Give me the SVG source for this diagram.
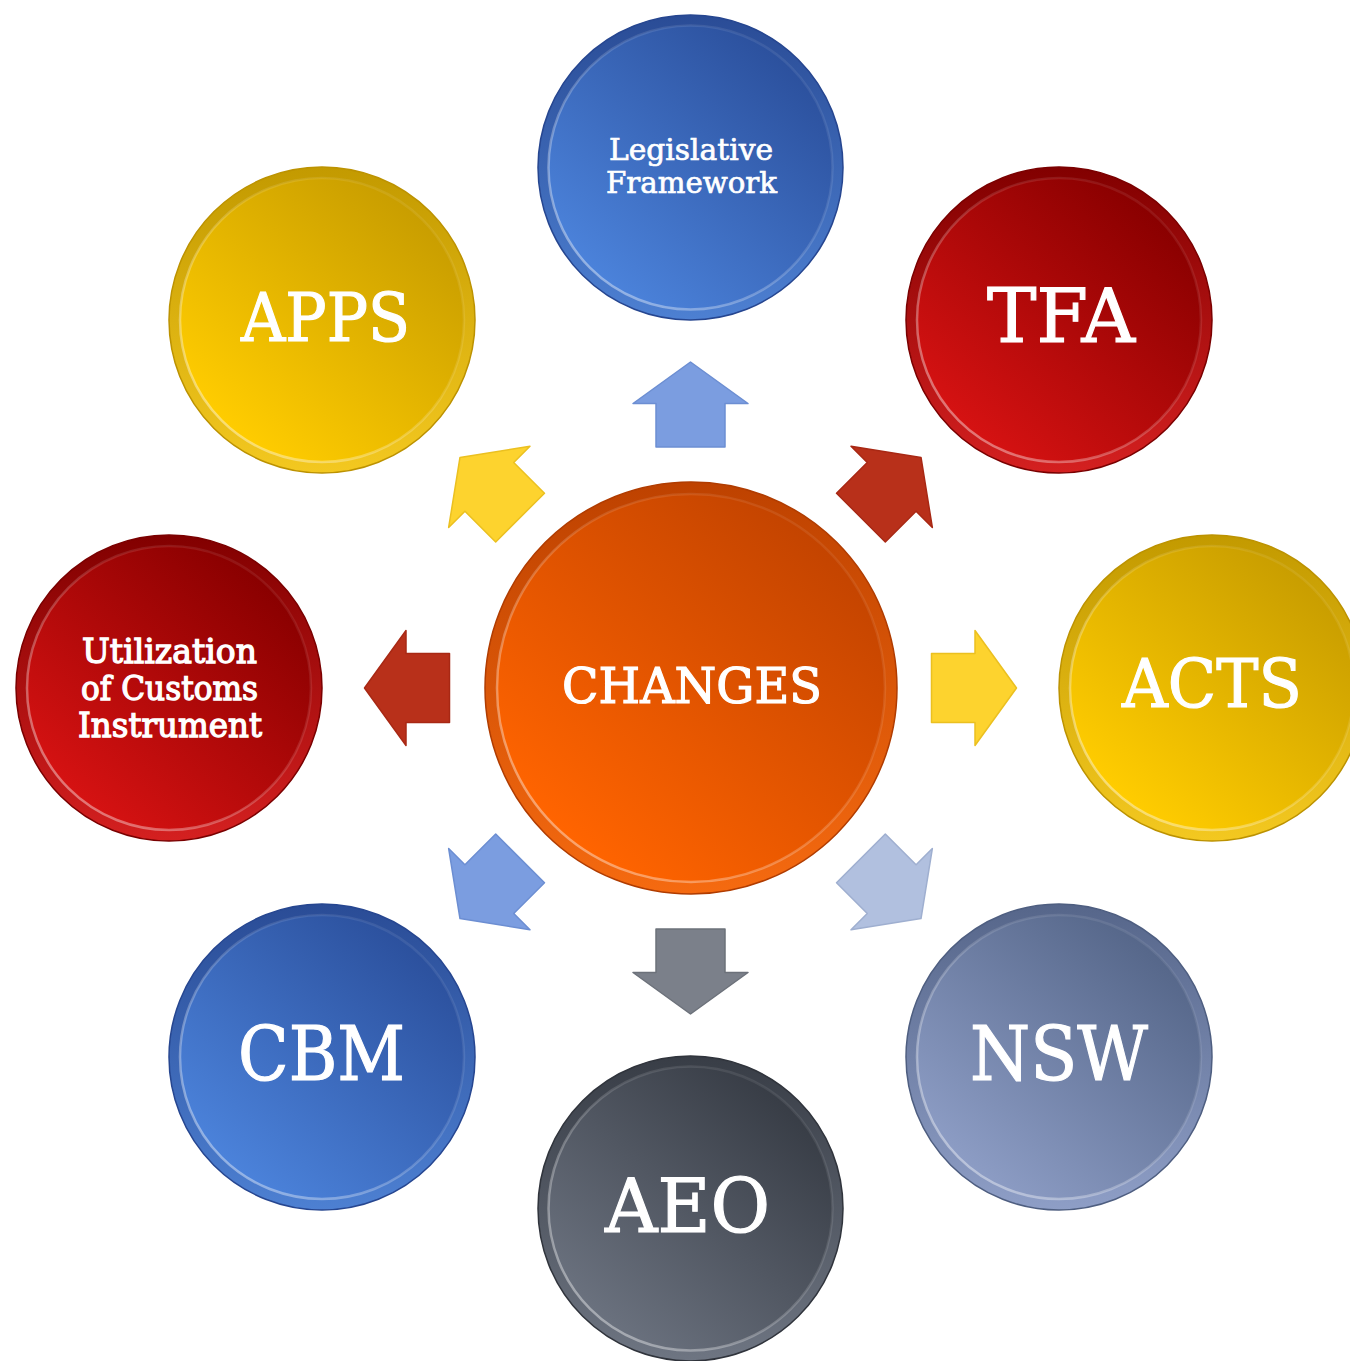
<svg xmlns="http://www.w3.org/2000/svg" width="1350" height="1361" viewBox="0 0 1350 1361">
<defs>
  <linearGradient id="faceBlue" x1="0.15" y1="0.85" x2="0.8" y2="0.1"><stop offset="0" stop-color="#4B82DA"/><stop offset="1" stop-color="#2C519E"/></linearGradient>
  <linearGradient id="rimBlue" x1="0" y1="0" x2="0" y2="1"><stop offset="0" stop-color="#2A4C96"/><stop offset="1" stop-color="#4D80D2"/></linearGradient>
  <linearGradient id="faceYellow" x1="0.15" y1="0.85" x2="0.8" y2="0.1"><stop offset="0" stop-color="#FFCC00"/><stop offset="1" stop-color="#C99E00"/></linearGradient>
  <linearGradient id="rimYellow" x1="0" y1="0" x2="0" y2="1"><stop offset="0" stop-color="#C39A00"/><stop offset="1" stop-color="#F3C820"/></linearGradient>
  <linearGradient id="faceRed" x1="0.15" y1="0.85" x2="0.8" y2="0.1"><stop offset="0" stop-color="#D51212"/><stop offset="1" stop-color="#8A0000"/></linearGradient>
  <linearGradient id="rimRed" x1="0" y1="0" x2="0" y2="1"><stop offset="0" stop-color="#820000"/><stop offset="1" stop-color="#D42020"/></linearGradient>
  <linearGradient id="faceOrange" x1="0.15" y1="0.85" x2="0.8" y2="0.1"><stop offset="0" stop-color="#FF6400"/><stop offset="1" stop-color="#C44400"/></linearGradient>
  <linearGradient id="rimOrange" x1="0" y1="0" x2="0" y2="1"><stop offset="0" stop-color="#BE4200"/><stop offset="1" stop-color="#F56A10"/></linearGradient>
  <linearGradient id="faceSlate" x1="0.15" y1="0.85" x2="0.8" y2="0.1"><stop offset="0" stop-color="#8C9CC4"/><stop offset="1" stop-color="#56678A"/></linearGradient>
  <linearGradient id="rimSlate" x1="0" y1="0" x2="0" y2="1"><stop offset="0" stop-color="#56668A"/><stop offset="1" stop-color="#8E9EC6"/></linearGradient>
  <linearGradient id="faceGray" x1="0.15" y1="0.85" x2="0.8" y2="0.1"><stop offset="0" stop-color="#6A717E"/><stop offset="1" stop-color="#383D46"/></linearGradient>
  <linearGradient id="rimGray" x1="0" y1="0" x2="0" y2="1"><stop offset="0" stop-color="#383D46"/><stop offset="1" stop-color="#6E7582"/></linearGradient>
  <linearGradient id="hl" x1="0" y1="1" x2="1" y2="0"><stop offset="0" stop-color="#fff" stop-opacity="0.5"/><stop offset="0.6" stop-color="#fff" stop-opacity="0.12"/><stop offset="1" stop-color="#fff" stop-opacity="0.05"/></linearGradient>
  <path id="arrow" d="M 0 -326 L 57.5 -284.5 L 34.5 -284.5 L 34.5 -241 L -34.5 -241 L -34.5 -284.5 L -57.5 -284.5 Z"/>
</defs>
<style>
  .rim { stroke-width: 1.5; }
  .inner { stroke: url(#hl); stroke-width: 2.5; }
  .lbl { font-family: "DejaVu Serif", "Liberation Serif", serif; fill: #ffffff; stroke: #ffffff; stroke-width: 1.2px; text-anchor: middle; }
  .small { font-size: 30px; stroke-width: 0.7px; }
  .util { font-size: 34px; stroke-width: 1.3px; }
  .arr { stroke-width: 1.5; stroke-linejoin: round; }
</style>

<g id="connectors">
  <use href="#arrow" class="arr" transform="translate(690.5,688) rotate(0)" fill="#7B9DE0" stroke="#6C8ED2"/>
  <use href="#arrow" class="arr" transform="translate(690.5,688) rotate(45)" fill="#B8301A" stroke="#A82814"/>
  <use href="#arrow" class="arr" transform="translate(690.5,688) rotate(90)" fill="#FDD32E" stroke="#EBC020"/>
  <use href="#arrow" class="arr" transform="translate(690.5,688) rotate(135)" fill="#B1C0DF" stroke="#9FAFD0"/>
  <use href="#arrow" class="arr" transform="translate(690.5,688) rotate(180)" fill="#7B808A" stroke="#6C717A"/>
  <use href="#arrow" class="arr" transform="translate(690.5,688) rotate(225)" fill="#7B9DE0" stroke="#6C8ED2"/>
  <use href="#arrow" class="arr" transform="translate(690.5,688) rotate(270)" fill="#B8301A" stroke="#A82814"/>
  <use href="#arrow" class="arr" transform="translate(690.5,688) rotate(315)" fill="#FDD32E" stroke="#EBC020"/>
</g>

<g id="node-changes">
  <circle cx="691" cy="688" r="206" fill="url(#rimOrange)" stroke="#B03C00" class="rim"/>
  <circle cx="691" cy="688" r="194" fill="url(#faceOrange)" class="inner"/>
  <text class="lbl" x="692" y="703" font-size="49" textLength="260" lengthAdjust="spacingAndGlyphs">CHANGES</text>
</g>

<g id="node-legislative">
  <circle cx="690.5" cy="167.5" r="152.5" fill="url(#rimBlue)" stroke="#264690" class="rim"/>
  <circle cx="690.5" cy="167.5" r="142" fill="url(#faceBlue)" class="inner"/>
  <text class="lbl small" x="691" y="160" textLength="164" lengthAdjust="spacingAndGlyphs">Legislative</text>
  <text class="lbl small" x="691.5" y="193" textLength="171" lengthAdjust="spacingAndGlyphs">Framework</text>
</g>

<g id="node-apps">
  <circle cx="322" cy="320" r="153" fill="url(#rimYellow)" stroke="#BC9200" class="rim"/>
  <circle cx="322" cy="320" r="142" fill="url(#faceYellow)" class="inner"/>
  <text class="lbl" x="325.5" y="341" font-size="67" textLength="169" lengthAdjust="spacingAndGlyphs">APPS</text>
</g>

<g id="node-tfa">
  <circle cx="1059" cy="320" r="153" fill="url(#rimRed)" stroke="#7A0000" class="rim"/>
  <circle cx="1059" cy="320" r="142" fill="url(#faceRed)" class="inner"/>
  <text class="lbl" x="1061" y="342" font-size="74" textLength="148" lengthAdjust="spacingAndGlyphs">TFA</text>
</g>

<g id="node-acts">
  <circle cx="1212" cy="688" r="153" fill="url(#rimYellow)" stroke="#BC9200" class="rim"/>
  <circle cx="1212" cy="688" r="142" fill="url(#faceYellow)" class="inner"/>
  <text class="lbl" x="1212" y="707" font-size="67" textLength="180" lengthAdjust="spacingAndGlyphs">ACTS</text>
</g>

<g id="node-utilization">
  <circle cx="169" cy="688" r="153" fill="url(#rimRed)" stroke="#7A0000" class="rim"/>
  <circle cx="169" cy="688" r="142" fill="url(#faceRed)" class="inner"/>
  <text class="lbl util" x="169.5" y="663" textLength="175" lengthAdjust="spacingAndGlyphs">Utilization</text>
  <text class="lbl util" x="169.5" y="700" textLength="177" lengthAdjust="spacingAndGlyphs">of Customs</text>
  <text class="lbl util" x="170" y="737" textLength="184" lengthAdjust="spacingAndGlyphs">Instrument</text>
</g>

<g id="node-cbm">
  <circle cx="322" cy="1057" r="153" fill="url(#rimBlue)" stroke="#264690" class="rim"/>
  <circle cx="322" cy="1057" r="142" fill="url(#faceBlue)" class="inner"/>
  <text class="lbl" x="321.5" y="1080" font-size="75" textLength="167" lengthAdjust="spacingAndGlyphs">CBM</text>
</g>

<g id="node-nsw">
  <circle cx="1059" cy="1057" r="153" fill="url(#rimSlate)" stroke="#4E5E80" class="rim"/>
  <circle cx="1059" cy="1057" r="142" fill="url(#faceSlate)" class="inner"/>
  <text class="lbl" x="1059" y="1080" font-size="75" textLength="178" lengthAdjust="spacingAndGlyphs">NSW</text>
</g>

<g id="node-aeo">
  <circle cx="690.5" cy="1208.5" r="152.5" fill="url(#rimGray)" stroke="#30343C" class="rim"/>
  <circle cx="690.5" cy="1208.5" r="142" fill="url(#faceGray)" class="inner"/>
  <text class="lbl" x="687.5" y="1232" font-size="75" textLength="165" lengthAdjust="spacingAndGlyphs">AEO</text>
</g>
</svg>
